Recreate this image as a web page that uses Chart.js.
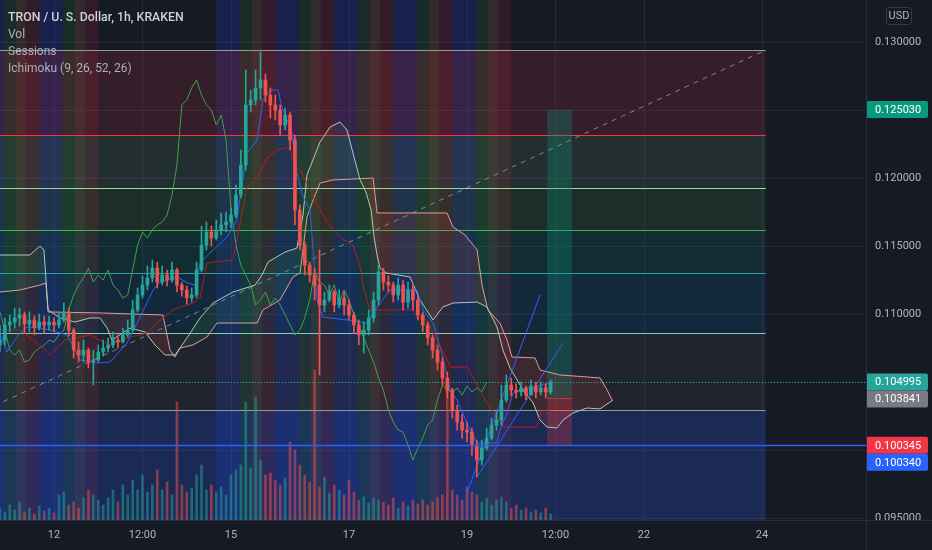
<!DOCTYPE html>
<html>
<head>
<meta charset="utf-8">
<script src="https://cdn.jsdelivr.net/npm/chart.js@4.4.1/dist/chart.umd.min.js"></script>
<style>
  html, body { margin: 0; padding: 0; background: #161a25; }
  #wrap { width: 932px; height: 550px; position: relative; }
</style>
</head>
<body>
<div id="wrap"><canvas id="chart"></canvas></div>
<script>
// Hours are counted from the 12th, 00:00. Candles are 2h, first one at -22h.
const firstHour = -22;
const stepHours = 2;
const firstOpen = 0.10772;

const closes = [
  0.10809, 0.10919, 0.10941, 0.10971, 0.10993, 0.10926, 0.10956, 0.10904, 0.10941, 0.10919,
  0.10941, 0.10919, 0.10956, 0.11015, 0.10882, 0.10735, 0.10698, 0.10735, 0.10647, 0.10662,
  0.10720, 0.10750, 0.10772, 0.10809, 0.10794, 0.10846, 0.10882, 0.11030, 0.11140, 0.11213,
  0.11265, 0.11338, 0.11235, 0.11287, 0.11250, 0.11324, 0.11213, 0.11177, 0.11118, 0.11140,
  0.11324, 0.11507, 0.11603, 0.11559, 0.11618, 0.11655, 0.11677, 0.11728, 0.11875, 0.12096,
  0.12537, 0.12574, 0.12662, 0.12721, 0.12610, 0.12537, 0.12500, 0.12390, 0.12463, 0.12280,
  0.11765, 0.11507, 0.11360, 0.11287, 0.11213, 0.11066, 0.11103, 0.11162, 0.11066, 0.11118,
  0.11066, 0.10993, 0.10919, 0.10846, 0.10882, 0.10971, 0.11103, 0.11309, 0.11235, 0.11213,
  0.11140, 0.11213, 0.11088, 0.11177, 0.11103, 0.10993, 0.10919, 0.10824, 0.10735, 0.10647,
  0.10529, 0.10441, 0.10294, 0.10206, 0.10147, 0.10132, 0.10037, 0.09927, 0.10015, 0.10088,
  0.10184, 0.10221, 0.10368, 0.10478, 0.10441, 0.10427, 0.10456, 0.10405, 0.10471, 0.10427,
  0.10456, 0.10427, 0.104995
];
const highs = [
  0.10919, 0.10971, 0.10993, 0.11044, 0.11044, 0.11015, 0.11015, 0.10985, 0.11000, 0.10985,
  0.10985, 0.10971, 0.11015, 0.11081, 0.11044, 0.10897, 0.10794, 0.10809, 0.10750, 0.10735,
  0.10772, 0.10809, 0.10824, 0.10868, 0.10846, 0.10897, 0.10956, 0.11103, 0.11191, 0.11280,
  0.11353, 0.11397, 0.11382, 0.11353, 0.11324, 0.11382, 0.11338, 0.11235, 0.11206, 0.11191,
  0.11382, 0.11647, 0.11677, 0.11647, 0.11691, 0.11743, 0.11750, 0.11780, 0.11949, 0.12206,
  0.12794, 0.12647, 0.12794, 0.12927, 0.12765, 0.12662, 0.12610, 0.12537, 0.12515, 0.12485,
  0.12316, 0.11802, 0.11530, 0.11382, 0.11338, 0.11471, 0.11162, 0.11213, 0.11177, 0.11177,
  0.11162, 0.11103, 0.11015, 0.10956, 0.10941, 0.11030, 0.11162, 0.11360, 0.11338, 0.11280,
  0.11235, 0.11265, 0.11250, 0.11235, 0.11213, 0.11132, 0.11015, 0.10941, 0.10846, 0.10772,
  0.10677, 0.10574, 0.10456, 0.10331, 0.10258, 0.10206, 0.10162, 0.10074, 0.10074, 0.10162,
  0.10235, 0.10294, 0.10478, 0.10552, 0.10530, 0.10486, 0.10500, 0.10471, 0.10515, 0.10500,
  0.10500, 0.10486, 0.10515
];
const lows = [
  0.10721, 0.10772, 0.10868, 0.10897, 0.10912, 0.10860, 0.10868, 0.10846, 0.10882, 0.10860,
  0.10882, 0.10868, 0.10897, 0.10941, 0.10838, 0.10677, 0.10647, 0.10647, 0.10603, 0.10478,
  0.10647, 0.10691, 0.10721, 0.10750, 0.10750, 0.10787, 0.10831, 0.10868, 0.11015, 0.11118,
  0.11177, 0.11235, 0.11191, 0.11213, 0.11206, 0.11235, 0.11162, 0.11132, 0.11074, 0.11088,
  0.11118, 0.11309, 0.11471, 0.11500, 0.11544, 0.11581, 0.11603, 0.11633, 0.11706, 0.11853,
  0.12059, 0.12485, 0.12537, 0.12574, 0.12559, 0.12441, 0.12427, 0.12316, 0.12353, 0.12206,
  0.11655, 0.11471, 0.11287, 0.11235, 0.11103, 0.10552, 0.11015, 0.11088, 0.11015, 0.11044,
  0.10993, 0.10956, 0.10860, 0.10772, 0.10713, 0.10846, 0.10941, 0.11066, 0.11177, 0.11162,
  0.11088, 0.11103, 0.11030, 0.11044, 0.11030, 0.10956, 0.10868, 0.10772, 0.10677, 0.10588,
  0.10478, 0.10383, 0.10235, 0.10147, 0.10088, 0.10059, 0.09963, 0.09802, 0.09890, 0.10000,
  0.10074, 0.10147, 0.10184, 0.10353, 0.10397, 0.10383, 0.10397, 0.10368, 0.10405, 0.10383,
  0.10405, 0.10383, 0.10412
];
const volumes = [
  12, 8, 15, 10, 18, 8, 12, 6, 14, 9,
  12, 7, 25, 28, 15, 18, 12, 22, 30, 25,
  20, 15, 22, 30, 18, 35, 25, 40, 30, 45,
  28, 35, 50, 30, 38, 25, 118, 35, 28, 32,
  45, 55, 30, 35, 28, 33, 25, 45, 50, 55,
  118, 52, 123, 60, 45, 47, 40, 35, 42, 78,
  70, 55, 45, 38, 150, 33, 43, 27, 35, 30,
  25, 40, 28, 20, 23, 17, 22, 20, 18, 15,
  22, 12, 18, 14, 20, 16, 20, 15, 18, 22,
  25, 140, 30, 25, 20, 33, 28, 25, 18, 22,
  15, 20, 23, 18, 12, 15, 10, 12, 8, 10,
  7, 12, 6
];

// Ichimoku lines as [hour, price]
const tenkan = [
  [-22, 0.10860], [-19.1, 0.10721], [-15.9, 0.10809], [-13.8, 0.10860], [-11, 0.10905],
  [-5.7, 0.10897], [-1.6, 0.10882], [5.3, 0.10846], [8.5, 0.10735], [10.6, 0.10662],
  [17.5, 0.10640], [22.8, 0.10647], [29.7, 0.10787], [35, 0.10978], [40.3, 0.11177],
  [43.1, 0.11235], [50, 0.11272], [54.5, 0.11228], [57.4, 0.11213], [59.4, 0.11375],
  [64.7, 0.11471], [70.4, 0.11566], [74.4, 0.11691], [75.7, 0.11860], [78.5, 0.12184],
  [82.6, 0.12280], [85, 0.12574], [87.9, 0.12647], [91.1, 0.12647], [92.7, 0.12522],
  [94.8, 0.12427], [96.8, 0.12331], [98.8, 0.12037], [101.3, 0.11860], [104.1, 0.11765],
  [105.4, 0.11471], [107, 0.11103], [109.4, 0.10978], [119.2, 0.10956], [127.3, 0.10934],
  [131.4, 0.11052], [136.7, 0.11177], [147.7, 0.11177], [150.1, 0.11030], [154.2, 0.10934],
  [158.2, 0.10684], [161.1, 0.10441], [163.9, 0.10368], [168, 0.10199], [172.1, 0.10052],
  [180.2, 0.10052], [181.4, 0.10147], [184.3, 0.10272], [186.7, 0.10419], [189.6, 0.10441],
  [194.9, 0.10463], [201.8, 0.10493]
];
const kijun = [
  [-22, 0.10882], [-13.8, 0.10882], [-5.7, 0.10772], [-1.6, 0.10699], [4.5, 0.10809],
  [14.6, 0.10846], [22.8, 0.10772], [29.7, 0.10824], [37.8, 0.10860], [41.9, 0.10934],
  [48.4, 0.11030], [56.5, 0.11081], [59.4, 0.11118], [62.2, 0.11375], [72.8, 0.11397],
  [74.4, 0.11544], [78.5, 0.11934], [83.8, 0.12037], [86.6, 0.12147], [90.7, 0.12206],
  [96, 0.12228], [98, 0.12081], [100.1, 0.12059], [102.9, 0.11963], [105.4, 0.11860],
  [111.1, 0.11677], [116.3, 0.11566], [121.6, 0.11507], [124.5, 0.11346], [125.7, 0.11213],
  [127.3, 0.11103], [128.5, 0.11030], [146, 0.11030], [147.7, 0.10978], [151.7, 0.10956],
  [155.8, 0.10809], [159.9, 0.10662], [161.1, 0.10610], [168, 0.10610], [170.4, 0.10537],
  [173.3, 0.10441], [176.1, 0.10346], [180.2, 0.10243], [182.6, 0.10169], [196.5, 0.10169],
  [198.1, 0.10294], [201.8, 0.10294]
];
const spanA = [
  [-22, 0.11434], [-9.8, 0.11434], [-5.7, 0.11500], [-4.1, 0.11471], [-2.4, 0.11030],
  [2.4, 0.10971], [8.5, 0.10941], [14.6, 0.10971], [18.7, 0.10971], [21.6, 0.10897],
  [23.6, 0.10809], [30.9, 0.10897], [37, 0.10868], [41.1, 0.10772], [45.2, 0.10699],
  [49.2, 0.10699], [54.1, 0.10824], [59.4, 0.10971], [64.7, 0.11081], [72.8, 0.11162],
  [81.8, 0.11213], [84.6, 0.11287], [87.1, 0.11383], [94, 0.11456], [98.8, 0.11485],
  [101.3, 0.11728], [102.9, 0.12022], [108.2, 0.12265], [112.3, 0.12375], [116.3, 0.12412],
  [119.2, 0.12353], [121.6, 0.12184], [124.5, 0.11986], [126.9, 0.11897], [129, 0.11765],
  [130.2, 0.11566], [131.4, 0.11434], [132.6, 0.11338], [135.1, 0.11302], [144.8, 0.11272],
  [148.9, 0.11103], [154.2, 0.10956], [158.2, 0.11052], [162.3, 0.11081], [172.1, 0.11088],
  [176.1, 0.11052], [180.2, 0.10905], [182.6, 0.10735], [185.5, 0.10603], [190.8, 0.10441],
  [194.9, 0.10346], [197.7, 0.10221], [200.5, 0.10169], [204.6, 0.10162], [207.1, 0.10221],
  [211.1, 0.10272], [216.8, 0.10309], [222.1, 0.10302], [227.4, 0.10368]
];
const spanB = [
  [-22, 0.11162], [-13.8, 0.11177], [-5.7, 0.11213], [-3.3, 0.11228], [-2.4, 0.11015],
  [18.7, 0.11008], [44.3, 0.10993], [47.2, 0.10735], [49.2, 0.10684], [51.3, 0.10750],
  [56.5, 0.10772], [62.2, 0.10831], [66.3, 0.10934], [82.6, 0.10934], [85, 0.11030],
  [91.9, 0.11103], [97.2, 0.11272], [100.1, 0.11302], [102.9, 0.11713], [105.4, 0.11838],
  [108.2, 0.11963], [113.5, 0.11986], [129.8, 0.12000], [131.4, 0.11743], [159.9, 0.11743],
  [162.3, 0.11640], [167.2, 0.11581], [172.1, 0.11471], [174.1, 0.11213], [176.5, 0.11030],
  [181.4, 0.10934], [184.3, 0.10809], [186.3, 0.10684], [195.7, 0.10677], [197.7, 0.10588],
  [205.8, 0.10552], [222.1, 0.10530], [225, 0.10441], [227, 0.10368]
];
const laggingShift = 26; // hours

// Drawings
const fibLevels = [0, 0.236, 0.382, 0.5, 0.618, 0.786, 1, 1.618];
const fibHigh = 0.12941;   // level 0
const fibLow = 0.10294;    // level 1
const fibStart = -28;
const fibEnd = 289.5;
const trendA = [[168, 0.09684], [197.7, 0.11140]];
const trendB = [[172.1, 0.09802], [207.1, 0.10787]];
const posStart = 200.6, posEnd = 210.7;
const posTarget = 0.12503, posEntry = 0.103841, posStop = 0.100345;
const lastPrice = 0.104995;
const supportPrice = 0.10034;

// Sessions [startHour, endHour]
const asiaSessions = [[-30, -20.5], [-6, 3.5], [66, 75.5], [90, 99.5], [114, 123.5], [138, 147.5], [162, 171.5]];
const londonSessions = [[-20.5, -11.5], [3.5, 12.5], [75.5, 84.5], [99.5, 108.5], [123.5, 132.5], [147.5, 156.5], [171.5, 180.5]];
const nySessions = [[-15.5, -6], [8.5, 18], [80.5, 90], [104.5, 114], [128.5, 138], [152.5, 162], [176.5, 186]];

// Axes
const viewStart = -21.97, viewEnd = 330.3;
const priceMin = 0.094855, priceMax = 0.13309;
const tickHours = [0, 36, 72, 120, 168, 204, 240, 288];
const tickLabels = ['12', '12:00', '15', '17', '19', '12:00', '22', '24'];
const priceTicks = [0.095, 0.100, 0.105, 0.110, 0.115, 0.120, 0.125, 0.130];

Chart.defaults.font.family = 'Roboto, "Noto Sans", sans-serif';
Chart.defaults.color = '#b2b5be';

const UP = '#26a69a';
const DOWN = '#ef5350';
const opens = closes.map((c, i) => (i === 0 ? firstOpen : closes[i - 1]));
const hours = closes.map((_, i) => firstHour + i * stepHours);
const isUp = i => closes[i] >= opens[i];
const toXY = pts => pts.map(([x, y]) => ({ x, y }));
const noPadding = s => { s.paddingTop = 0; s.paddingBottom = 0; s.paddingLeft = 0; s.paddingRight = 0; };

const backdrop = {
  id: 'backdrop',
  beforeDatasetsDraw(chart) {
    const { ctx, chartArea: a, scales: { x, y } } = chart;
    const px = v => x.getPixelForValue(v);
    const py = v => y.getPixelForValue(v);
    ctx.save();
    ctx.beginPath();
    ctx.rect(a.left, a.top, a.right - a.left, a.bottom - a.top);
    ctx.clip();

    const stripes = (list, color) => {
      ctx.fillStyle = color;
      list.forEach(([s, e]) => ctx.fillRect(px(s), a.top, px(e) - px(s), a.bottom - a.top));
    };
    stripes(asiaSessions, 'rgba(35,60,230,0.20)');
    stripes(londonSessions, 'rgba(40,160,70,0.13)');
    stripes(nySessions, 'rgba(230,40,60,0.13)');

    // fib retracement
    const fibFill = ['rgba(242,54,69,0.14)', 'rgba(129,199,132,0.12)', 'rgba(76,175,80,0.13)',
      'rgba(8,153,129,0.14)', 'rgba(0,150,210,0.12)', 'rgba(120,123,134,0.10)', 'rgba(41,98,255,0.22)'];
    const fibLine = ['#9598a1', '#f23645', '#a5d6a7', '#4caf50', '#26a69a', '#80cbc4', '#9598a1', '#2962ff'];
    const fibPrice = l => fibHigh - (fibHigh - fibLow) * l;
    const fx0 = px(fibStart), fx1 = px(fibEnd);
    for (let k = 0; k < fibLevels.length - 1; k++) {
      const y0 = py(fibPrice(fibLevels[k]));
      const y1 = py(fibPrice(fibLevels[k + 1]));
      ctx.fillStyle = fibFill[k];
      ctx.fillRect(fx0, y0, fx1 - fx0, y1 - y0);
    }
    ctx.lineWidth = 1;
    fibLevels.forEach((l, k) => {
      const yy = Math.round(py(fibPrice(l))) + 0.5;
      ctx.strokeStyle = fibLine[k];
      ctx.beginPath();
      ctx.moveTo(fx0, yy);
      ctx.lineTo(fx1, yy);
      ctx.stroke();
    });

    // long position
    const lx0 = px(posStart), lx1 = px(posEnd);
    ctx.fillStyle = 'rgba(8,153,129,0.28)';
    ctx.fillRect(lx0, py(posTarget), lx1 - lx0, py(posEntry) - py(posTarget));
    ctx.fillStyle = 'rgba(242,54,69,0.28)';
    ctx.fillRect(lx0, py(posEntry), lx1 - lx0, py(posStop) - py(posEntry));
    ctx.strokeStyle = '#a83a48';
    ctx.beginPath();
    ctx.moveTo(lx0, Math.round(py(posEntry)) + 0.5);
    ctx.lineTo(lx1, Math.round(py(posEntry)) + 0.5);
    ctx.stroke();
    ctx.restore();
  },
  afterDatasetsDraw(chart) {
    const { ctx, chartArea: a, scales: { y } } = chart;
    ctx.save();
    // support line
    const ys = Math.round(y.getPixelForValue(supportPrice)) + 0.5;
    ctx.strokeStyle = '#2962ff';
    ctx.lineWidth = 1.5;
    ctx.beginPath();
    ctx.moveTo(a.left, ys);
    ctx.lineTo(a.right, ys);
    ctx.stroke();
    // last price line
    const yl = Math.round(y.getPixelForValue(lastPrice)) + 0.5;
    ctx.strokeStyle = UP;
    ctx.lineWidth = 1;
    ctx.setLineDash([1, 2]);
    ctx.beginPath();
    ctx.moveTo(a.left, yl);
    ctx.lineTo(a.right, yl);
    ctx.stroke();
    ctx.restore();
  },
  afterDraw(chart) {
    const { ctx, chartArea: a, scales: { y } } = chart;
    ctx.save();
    // cut the bottom tick label at the time axis
    ctx.fillStyle = '#161a25';
    ctx.fillRect(a.right + 1, a.bottom, 932 - a.right, 550 - a.bottom);
    ctx.strokeStyle = '#2a2e39';
    ctx.beginPath();
    ctx.moveTo(a.right + 0.5, 0);
    ctx.lineTo(a.right + 0.5, 550);
    ctx.moveTo(a.right, a.bottom + 0.5);
    ctx.lineTo(932, a.bottom + 0.5);
    ctx.stroke();

    // legend
    ctx.textBaseline = 'alphabetic';
    ctx.textAlign = 'left';
    ctx.fillStyle = '#cfd2d9';
    ctx.font = '500 12.3px Roboto';
    ctx.fillText('TRON / U. S. Dollar, 1h, KRAKEN', 8, 21);
    ctx.fillStyle = '#aeb1ba';
    ctx.font = '12px Roboto';
    ctx.fillText('Vol', 8, 38);
    ctx.fillText('Sessions', 8, 55);
    ctx.fillText('Ichimoku (9, 26, 52, 26)', 8, 72);

    // currency badge
    ctx.strokeStyle = '#363a45';
    ctx.lineWidth = 1;
    ctx.beginPath();
    ctx.roundRect(886.5, 7.5, 25, 17, 3);
    ctx.stroke();
    ctx.fillStyle = '#b2b5be';
    ctx.font = '11px Roboto';
    ctx.textAlign = 'center';
    ctx.textBaseline = 'middle';
    ctx.fillText('USD', 899, 16.5);

    // price labels on the axis
    const labels = [
      [posTarget, '#089981'], [lastPrice, '#26a69a'], [posEntry, '#787b86'],
      [posStop, '#f23645'], [supportPrice, '#2962ff']
    ];
    const h = 17;
    let prev = -Infinity;
    ctx.textAlign = 'left';
    labels.forEach(([v, color]) => {
      let cy = y.getPixelForValue(v);
      if (cy < prev + h) cy = prev + h;
      prev = cy;
      ctx.fillStyle = color;
      ctx.beginPath();
      ctx.roundRect(a.right + 1, cy - h / 2, 61, h, [0, 2, 2, 0]);
      ctx.fill();
      ctx.fillStyle = '#ffffff';
      ctx.fillText(v.toFixed(6), a.right + 9, cy + 0.5);
    });
    ctx.restore();
  }
};

new Chart(document.getElementById('chart'), {
  type: 'bar',
  data: {
    datasets: [
      {
        label: 'wicks',
        data: hours.map((h, i) => ({ x: h, y: [lows[i], highs[i]] })),
        backgroundColor: ctx => (isUp(ctx.dataIndex) ? UP : DOWN),
        barThickness: 1,
        grouped: false,
        order: 1
      },
      {
        label: 'bodies',
        data: hours.map((h, i) => ({ x: h, y: [opens[i], closes[i]] })),
        backgroundColor: ctx => (isUp(ctx.dataIndex) ? UP : DOWN),
        barThickness: 3,
        minBarLength: 1,
        grouped: false,
        order: 0
      },
      {
        label: 'Vol',
        data: hours.map((h, i) => ({ x: h, y: volumes[i] })),
        backgroundColor: ctx => (isUp(ctx.dataIndex) ? 'rgba(38,166,154,0.5)' : 'rgba(239,83,80,0.5)'),
        barThickness: 2,
        grouped: false,
        yAxisID: 'yv',
        order: 9
      },
      {
        type: 'line',
        label: 'Leading Span A',
        data: toXY(spanA),
        borderColor: '#b2c9b4',
        borderWidth: 1,
        pointRadius: 0,
        fill: { target: '+1', above: 'rgba(67,160,71,0.12)', below: 'rgba(244,67,54,0.13)' },
        order: 6
      },
      {
        type: 'line',
        label: 'Leading Span B',
        data: toXY(spanB),
        borderColor: '#e3a0a0',
        borderWidth: 1,
        pointRadius: 0,
        order: 6
      },
      {
        type: 'line',
        label: 'Lagging Span',
        data: hours.map((h, i) => ({ x: h - laggingShift, y: closes[i] })),
        borderColor: '#43a047',
        borderWidth: 1,
        pointRadius: 0,
        order: 5
      },
      {
        type: 'line',
        label: 'Base Line',
        data: toXY(kijun),
        borderColor: '#b71c1c',
        borderWidth: 1,
        pointRadius: 0,
        order: 4
      },
      {
        type: 'line',
        label: 'Conversion Line',
        data: toXY(tenkan),
        borderColor: '#2962ff',
        borderWidth: 1,
        pointRadius: 0,
        order: 3
      },
      {
        type: 'line',
        label: 'fib trend',
        data: [{ x: fibStart, y: fibLow }, { x: fibEnd, y: fibHigh }],
        borderColor: 'rgba(160,163,172,0.75)',
        borderWidth: 1,
        borderDash: [5, 5],
        pointRadius: 0,
        order: 7
      },
      {
        type: 'line',
        label: 'trend A',
        data: toXY(trendA),
        borderColor: '#2962ff',
        borderWidth: 1,
        pointRadius: 0,
        order: 2
      },
      {
        type: 'line',
        label: 'trend B',
        data: toXY(trendB),
        borderColor: '#2962ff',
        borderWidth: 1,
        pointRadius: 0,
        order: 2
      }
    ]
  },
  options: {
    responsive: true,
    maintainAspectRatio: false,
    animation: false,
    events: [],
    layout: { padding: 0 },
    plugins: {
      legend: { display: false },
      tooltip: { enabled: false }
    },
    scales: {
      x: {
        type: 'linear',
        min: viewStart,
        max: viewEnd,
        offset: false,
        afterBuildTicks: s => { s.ticks = tickHours.map(v => ({ value: v })); },
        afterFit: s => { s.height = 30; noPadding(s); },
        ticks: {
          callback: (v, i) => tickLabels[i],
          color: '#b2b5be',
          font: { size: 11 },
          padding: 9,
          maxRotation: 0,
          autoSkip: false
        },
        grid: { color: 'rgba(42,46,57,0.8)', drawTicks: false, offset: false },
        border: { color: '#2a2e39' }
      },
      y: {
        position: 'right',
        min: priceMin,
        max: priceMax,
        afterBuildTicks: s => { s.ticks = priceTicks.map(v => ({ value: v })); },
        afterFit: s => { s.width = 66; noPadding(s); },
        ticks: {
          callback: v => v.toFixed(6),
          color: '#b2b5be',
          font: { size: 11 },
          padding: 9
        },
        grid: { color: 'rgba(42,46,57,0.8)', drawTicks: false },
        border: { color: '#2a2e39' }
      },
      yv: {
        display: false,
        min: 0,
        max: 520
      }
    }
  },
  plugins: [backdrop]
});
</script>
</body>
</html>
